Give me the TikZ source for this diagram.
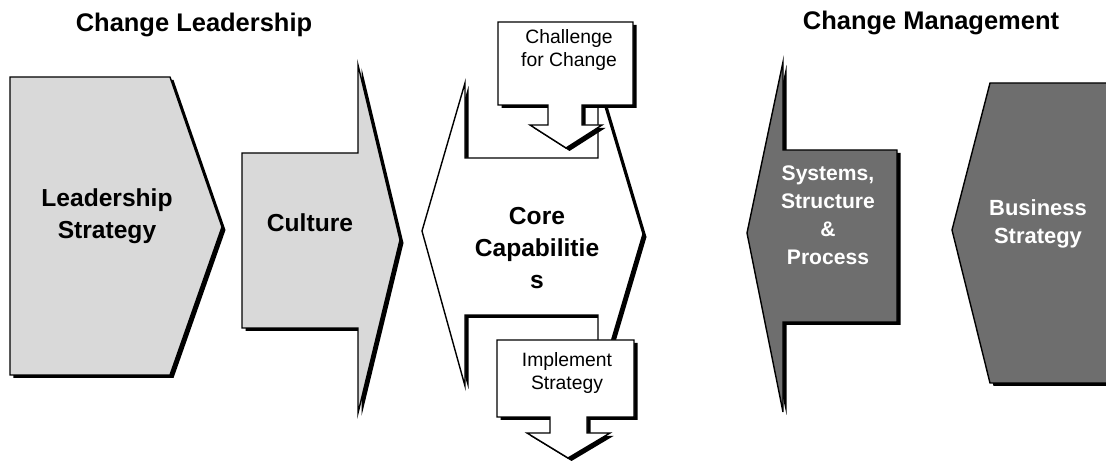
\documentclass[tikz,border=0pt]{standalone}
\usepackage{fontspec}
\setmainfont{Liberation Sans}
\usetikzlibrary{shadows}
\tikzset {
    style A/.style={
        fill=gray!30,
        draw=black,
        line width=0.8pt,
        line join=miter,
        drop shadow={shadow xshift=0.07cm, shadow yshift=-0.06cm, opacity=1, fill=black},
    },
    style B/.style={
        fill=black!57,
        draw=black,
        line width=0.8pt,
        line join=miter,
        drop shadow={shadow xshift=0.07cm, shadow yshift=-0.06cm, opacity=1, fill=black},
    },
    style C/.style={
        fill=white,
        draw=black,
        line width=0.8pt,
        line join=miter,
        drop shadow={shadow xshift=0.07cm, shadow yshift=-0.06cm, opacity=1, fill=black},
    },
    style T/.style={
        font=\fontsize{14.5}{17}\selectfont\bfseries,
        anchor=base,
    },
    label A/.style={
        font=\fontsize{14}{18}\selectfont\bfseries,
        align=center, % Set the text centred
    },
    label B/.style={
        font=\fontsize{12.5}{16}\selectfont\bfseries,
        text=white,
        align=center,
    },
    label C/.style={
        font=\fontsize{11}{13.5}\selectfont,
        align=center,
    },
}
\begin{document}
\begin{tikzpicture}[x=0.02cm, y=-0.02cm, font=\small]
    \useasboundingbox (0,0) rectangle (1106,462);

    % titles
    \node[style T] (cl) at (194,32) {Change Leadership};
    \node[style T] (cm) at (931,30) {Change Management};

    % change leadership
    \draw[style A] (10,77) -- (170,77) -- (222,227) -- (170,375) -- (10,375) -- cycle;
    \node[label A] (ls) at (107,216) {Leadership\\Strategy};

    \draw[style A] (242,153) -- (358,153) -- (358,65) -- (400,240) -- (358,413)
        -- (358,328) -- (242,328) -- cycle;
    \node[label A] (cu) at (310,223) {Culture};

    \draw[style C] (422,231) -- (465,83) -- (465,158) -- (598,158) -- (598,83)
        -- (643,234) -- (598,386) -- (598,315) -- (465,315) -- (465,386) -- cycle;
    \node[label A] (cc) at (537,248) {Core\\Capabilitie\\s};

    \draw[style C] (498,22) -- (633,22) -- (633,105) -- (582,105) -- (582,125)
        -- (602,125) -- (566,148) -- (530,125) -- (548,125) -- (548,105)
        -- (498,105) -- cycle;
    \node[label C] (cf) at (569,50) {Challenge\\for Change};

    \draw[style C] (497,340) -- (634,340) -- (634,417) -- (587,417) -- (587,433)
        -- (610,433) -- (568,458) -- (527,433) -- (550,433) -- (550,417)
        -- (497,417) -- cycle;
    \node[label C] (is) at (567,373) {Implement\\Strategy};

    % change management
    \draw[style B] (747,233) -- (783,62) -- (783,150) -- (897,150) -- (897,322)
        -- (783,322) -- (783,412) -- cycle;
    \node[label B, font=\fontsize{12}{16}\selectfont\bfseries] (ss) at (828,215)
        {Systems,\\Structure\\\&\\Process};

    \draw[style B] (952,230) -- (990,83) -- (1112,83) -- (1112,383) -- (990,383) -- cycle;
    \node[label B] (bs) at (1038,224) {Business\\Strategy};

\end{tikzpicture}
\end{document}
